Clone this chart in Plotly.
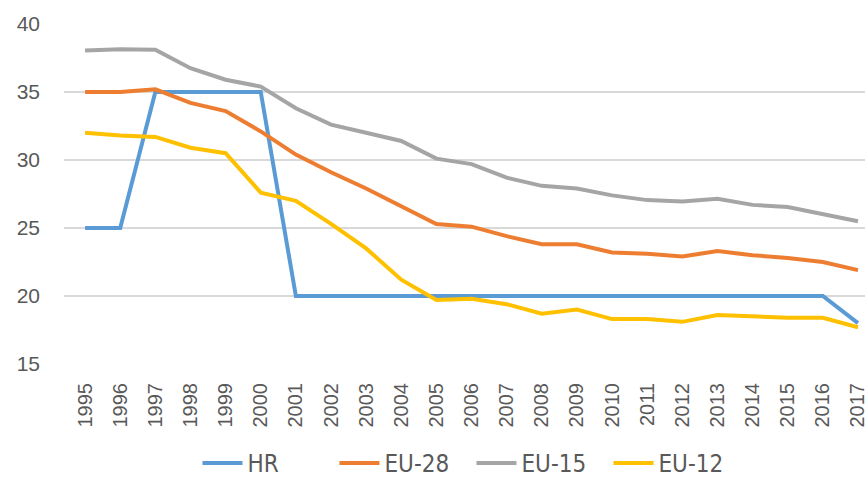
import plotly.graph_objects as go

years = [str(y) for y in range(1995, 2018)]
hr = [25, 25, 35, 35, 35, 35, 20, 20, 20, 20, 20, 20, 20, 20, 20, 20, 20, 20, 20, 20, 20, 20, 18]
eu28 = [35.0, 35.0, 35.2, 34.2, 33.6, 32.1, 30.4, 29.1, 27.9, 26.6, 25.3, 25.1, 24.4, 23.8, 23.8,
        23.2, 23.1, 22.9, 23.3, 23.0, 22.8, 22.5, 21.9]
eu15 = [38.05, 38.15, 38.1, 36.75, 35.9, 35.4, 33.8, 32.6, 32.0, 31.4, 30.1, 29.7, 28.7, 28.1, 27.9,
        27.4, 27.05, 26.95, 27.15, 26.7, 26.55, 26.0, 25.5]
eu12 = [32.0, 31.8, 31.7, 30.9, 30.5, 27.6, 27.0, 25.3, 23.5, 21.2, 19.7, 19.8, 19.4, 18.7, 19.0,
        18.3, 18.3, 18.1, 18.6, 18.5, 18.4, 18.4, 17.7]

series = [("HR", hr, "#5B9BD5"), ("EU-28", eu28, "#ED7D31"),
          ("EU-15", eu15, "#A5A5A5"), ("EU-12", eu12, "#FFC000")]

fig = go.Figure()
for name, vals, color in series:
    fig.add_trace(go.Scatter(x=years, y=vals, name=name, mode="lines",
                             line=dict(color=color, width=4)))

fig.update_layout(
    width=868, height=486,
    margin=dict(l=64, r=0, t=24, b=112),
    plot_bgcolor="white", paper_bgcolor="white",
    font=dict(family="Liberation Sans, Arial, sans-serif", color="#595959"),
    showlegend=True,
    legend=dict(orientation="h", x=0.5087, xanchor="center", y=-0.294, yanchor="middle",
                font=dict(size=24, family="Liberation Sans Narrow, DejaVu Sans Condensed, sans-serif",
                          color="#595959"),
                itemwidth=40, tracegroupgap=0, entrywidth=82, entrywidthmode="pixels"),
)
fig.update_xaxes(type="category", range=[-0.6, 22.2], tickangle=-90,
                 tickfont=dict(size=20, color="#595959"), showgrid=False,
                 showline=False, ticks="", zeroline=False, ticklabelstandoff=14)
fig.update_yaxes(range=[15, 40], dtick=5, showgrid=True, gridcolor="#D9D9D9", gridwidth=1.5,
                 tickfont=dict(size=21, color="#595959"), zeroline=False, showline=False,
                 ticks="", ticklabelstandoff=23)

fig.write_html("out.html", config={"displayModeBar": False},
               post_script="document.body.style.margin='0';document.body.style.overflow='hidden';")
